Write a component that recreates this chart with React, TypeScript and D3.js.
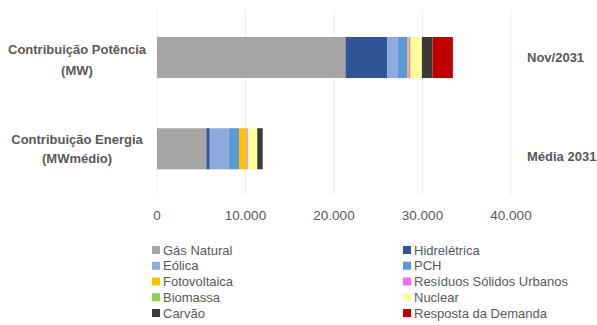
import React from "react";
import * as d3 from "d3";

const categories = ["Contribuição Potência|(MW)", "Contribuição Energia|(MWmédio)"];
const rightLabels = ["Nov/2031", "Média 2031"];
const seriesNames = [
  "Gás Natural", "Hidrelétrica", "Eólica", "PCH", "Fotovoltaica",
  "Resíduos Sólidos Urbanos", "Biomassa", "Nuclear", "Carvão", "Resposta da Demanda",
];
const seriesColors = [
  "#A5A5A5", "#2F5597", "#8FAADC", "#5B9BD5", "#FFC000",
  "#FF66FF", "#92D050", "#FFFF99", "#3A3A3A", "#C00000",
];
const potenciaValues = [21300, 4700, 1180, 1130, 150, 150, 50, 1270, 1200, 2300];
const energiaValues = [5580, 380, 2140, 1170, 830, 150, 50, 1030, 610, 0];
const tickValues = [0, 10000, 20000, 30000, 40000];

const FONT = "'Liberation Sans', Arial, sans-serif";
const TXT = "#595959";

export default function App() {
  const W = 597, H = 325;
  const x = d3.scaleLinear().domain([0, 40000]).range([157, 511]);
  const y = d3.scaleBand().domain(categories).range([37, 169.3]).paddingInner(0.55).paddingOuter(0);
  const rows = [potenciaValues, energiaValues];
  const fmt = (v: number) => d3.format(",")(v).replace(/,/g, ".");
  const leftLabelY = [[54, 75], [144, 163]];
  const rightLabelY = [62, 161];

  return (
    <svg width={W} height={H} style={{ position: "absolute", left: 0, top: 0, background: "#fff" }}>
      {tickValues.map((t) => (
        <line key={t} x1={x(t)} x2={x(t)} y1={10} y2={195} stroke="#EDEDED" strokeWidth={1} />
      ))}
      {categories.map((c, i) => {
        let acc = 0;
        const vals = rows[i];
        return (
          <g key={c}>
            {vals.map((v, j) => {
              const x0 = x(acc);
              acc += v;
              if (v <= 0) return null;
              return (
                <rect key={j} x={x0} y={y(c)} width={x(acc) - x0} height={y.bandwidth()}
                  fill={seriesColors[j]} />
              );
            })}
            {c.split("|").map((line, k) => (
              <text key={k} x={77} y={leftLabelY[i][k]} textAnchor="middle"
                fontFamily={FONT} fontWeight="bold" fontSize={13} fill={TXT}>{line}</text>
            ))}
            <text x={527} y={rightLabelY[i]} textAnchor="start"
              fontFamily={FONT} fontWeight="bold" fontSize={13} fill={TXT}>{rightLabels[i]}</text>
          </g>
        );
      })}
      {tickValues.map((t) => (
        <text key={"l" + t} x={x(t)} y={220} textAnchor="middle" fontFamily={FONT} fontSize={13.5} fill={TXT}>
          {fmt(t)}
        </text>
      ))}
      {seriesNames.map((s, i) => {
        const col = i % 2;
        const row = Math.floor(i / 2);
        const lx = col === 0 ? 152 : 403;
        const ly = 250 + row * 15.75;
        return (
          <g key={s}>
            <rect x={lx} y={ly - 4} width={8} height={8} fill={seriesColors[i]} />
            <text x={lx + 11} y={ly + 4.5} fontFamily={FONT} fontSize={13} fill={TXT}>{s}</text>
          </g>
        );
      })}
    </svg>
  );
}
